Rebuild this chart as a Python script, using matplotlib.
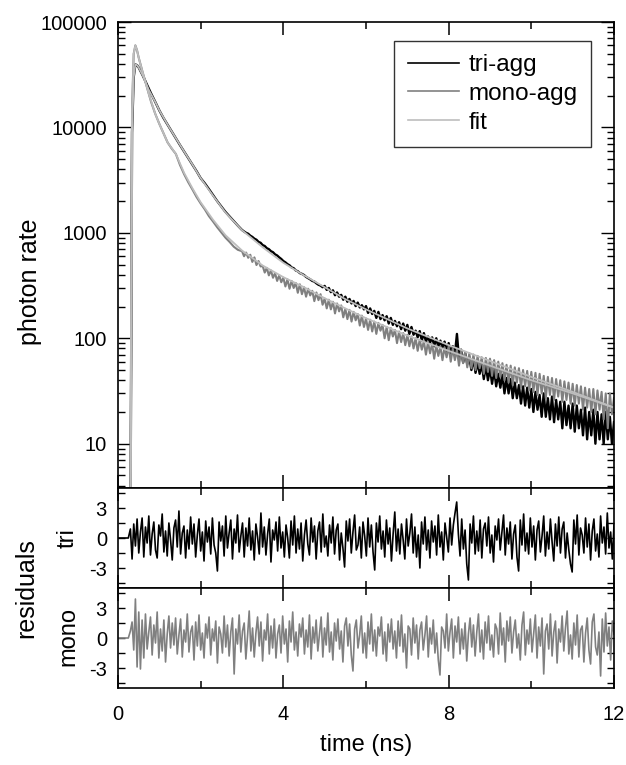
import numpy as np
import matplotlib
matplotlib.use("Agg")
import matplotlib.pyplot as plt
from matplotlib.ticker import FixedLocator, FuncFormatter, LogLocator, NullFormatter

plt.rcParams['font.family'] = ['Liberation Sans', 'DejaVu Sans']

# ---- decay data (photon rate), early part read at irregular times ----
early_t = [0.30, 0.34, 0.38, 0.42, 0.46, 0.5, 0.6, 0.7, 0.8, 0.9,
           1.0, 1.1, 1.2, 1.3, 1.4, 1.5, 1.6, 1.7, 1.8, 1.9,
           2.0, 2.1, 2.2, 2.3, 2.4, 2.5, 2.6, 2.7, 2.8, 2.9]
tri_early = [1, 9000, 30000, 39500, 39000, 37000, 31000, 25500, 21000, 17500,
             14500, 12300, 10600, 9100, 7900, 6800, 5900, 5100, 4450, 3850,
             3300, 2950, 2600, 2280, 2000, 1780, 1580, 1430, 1290, 1170]
mono_early = [1, 15000, 50000, 60000, 54000, 46000, 33000, 24000, 17500, 13500,
              10800, 8800, 7200, 6300, 5600, 4400, 3600, 3020, 2580, 2190,
              1900, 1670, 1440, 1280, 1130, 1010, 900, 820, 740, 690]

# tail, every 0.05 ns from 3.0 to 12.0 (one row per ns)
tri_tail = [1065, 1030, 1000, 980, 940, 915, 880, 860, 820, 805, 765, 750, 715, 700, 670, 655, 625, 610, 585, 565,
            540, 525, 505, 492, 470, 462, 440, 432, 415, 408, 398, 382, 372, 362, 350, 345, 332, 322, 316, 305,
            314, 288, 300, 274, 285, 256, 272, 248, 258, 232, 248, 222, 236, 214, 226, 202, 218, 196, 206, 188,
            202, 174, 192, 170, 182, 156, 178, 152, 166, 148, 162, 138, 156, 134, 146, 130, 142, 122, 138, 118,
            134, 110, 128, 108, 118, 102, 117, 95, 112, 93, 104, 91, 102, 84, 100, 83, 95, 81, 93, 76,
            90, 72, 84, 70, 110, 64, 78, 59, 72, 57, 66, 50, 64, 47, 59, 46, 57, 41, 55, 40,
            52, 37, 50, 35, 46, 34, 45, 30, 42, 30, 41, 27, 38, 27, 36, 24, 35, 23, 34, 22,
            33, 20, 31, 21, 29, 18, 30, 18, 27, 17, 28, 16, 26, 17, 25, 14, 25, 15, 23, 14,
            24, 13, 23, 14, 21, 12, 22, 11, 20, 12, 21, 10, 20, 11, 19, 10, 20, 11, 18, 10,
            16]
mono_tail = [670, 600, 650, 580, 620, 530, 585, 495, 540, 480, 485, 420, 465, 395, 440, 375, 415, 350, 395, 340,
             375, 310, 362, 295, 350, 300, 335, 270, 325, 262, 305, 248, 295, 255, 282, 225, 272, 230, 262, 208,
             238, 192, 232, 188, 222, 172, 214, 180, 205, 158, 190, 152, 186, 144, 178, 148, 170, 132, 164, 128,
             154, 120, 150, 116, 144, 110, 140, 118, 134, 100, 128, 96, 125, 104, 120, 90, 116, 92, 112, 86,
             108, 84, 104, 80, 100, 76, 97, 78, 94, 70, 92, 72, 89, 64, 86, 68, 84, 62, 82, 66,
             84, 60, 80, 62, 78, 55, 76, 58, 74, 53, 72, 52, 70, 50, 68, 52, 66, 46, 65, 48,
             64, 44, 62, 42, 60, 43, 58, 40, 56, 38, 55, 36, 53, 38, 52, 34, 50, 35, 49, 32,
             48, 31, 47, 29, 46, 30, 44, 27, 43, 29, 42, 26, 41, 28, 40, 25, 39, 26, 38, 24,
             37, 23, 36, 24, 35, 21, 34, 22, 33, 20, 33, 19, 32, 21, 31, 17, 30, 14, 30, 19,
             27]

# ---- fit curves ----
fit_t = [0.30, 0.34, 0.38, 0.42, 0.46, 0.5, 0.6, 0.75, 0.9, 1.0,
         1.2, 1.4, 1.6, 1.8, 2.0, 2.3, 2.6, 3.0, 3.5, 4.0,
         4.5, 5.0, 5.5, 6.0, 7.0, 8.0, 9.0, 10.0, 11.0, 12.0]
fit_tri = [1, 9000, 30000, 39500, 39000, 37000, 31000, 22500, 17500, 14500,
           10600, 7900, 5900, 4450, 3300, 2250, 1560, 1060, 730, 520,
           395, 305, 235, 188, 124, 86, 61, 43, 31, 22]
fit_mono = [1, 15000, 50000, 60000, 54000, 46000, 33000, 20500, 13500, 10800,
            7200, 5600, 3700, 2650, 1950, 1330, 950, 680, 490, 380,
            305, 240, 192, 155, 106, 76, 55, 40, 30, 22]

# ---- weighted residuals (flat lead-in, then 0.3 .. 12 ns) ----
res_lead_t = [0.0, 0.25]
res_tri = [0.9, -2.1, 1.4, -0.8, 1.9, -1.5, 0.6, 2.0, -1.9, 1.1,
           -0.5, 2.2, -1.7, 0.4, 1.6, -1.2, -2.0, 1.3, 0.2, 2.4,
           -1.4, 0.7, -1.8, 1.5, -0.2, -2.2, 1.0, 1.8, -0.9, 2.7,
           -1.6, 0.5, 1.2, -2.0, 0.8, -1.1, 2.1, -0.6, 1.4, -1.9,
           0.3, 1.9, -1.3, 0.6, -2.3, 1.7, -0.4, 1.1, -1.6, 2.0,
           -0.7, -1.5, -3.3, 1.6, -0.3, 1.2, -1.8, 2.2, -1.0, 0.5,
           1.8, -2.1, 0.9, -0.5, 2.3, -1.4, 0.2, 1.5, -1.9, 1.0,
           -0.8, 2.0, -1.2, 0.7, -2.2, 1.4, 0.1, -1.6, 2.5, -0.9,
           1.1, -1.7, 0.4, 1.9, -2.4, 0.8, -0.2, 1.6, -1.3, 2.1,
           -1.0, 0.6, -1.9, 1.3, 0.0, -2.0, 1.7, -0.7, 2.2, -1.5,
           0.9, -1.1, 1.5, -2.3, 0.3, 1.8, -0.6, -1.7, 2.0, -0.4,
           1.2, -2.1, 0.7, 1.6, -1.4, 2.4, -0.9, 0.2, -1.8, 1.3,
           -0.5, 2.1, -1.6, 0.8, 1.4, -2.2, 0.5, -1.0, -2.9, 1.7,
           -0.3, 1.9, -1.5, 0.6, 2.3, -1.2, -0.7, 1.1, -2.0, 1.6,
           0.2, -1.8, 2.0, -0.9, 1.3, -1.4, -3.2, 1.5, -0.4, 2.2,
           -1.1, 0.7, -1.9, 1.8, -0.6, 1.0, -2.3, 0.4, 2.6, -1.3,
           0.9, -1.6, 1.4, -0.2, -2.1, 1.9, -0.8, 0.5, 2.4, -1.5,
           1.1, -1.9, 0.3, -3.0, 1.6, -0.6, 2.1, -1.2, 0.8, -2.0,
           1.7, -0.4, 1.2, -1.7, 2.3, -0.9, 0.6, -2.2, 1.5, 0.1,
           -1.4, 2.0, -0.7, 1.3, 2.5, 3.6, 0.4, -1.8, 1.9, -1.1,
           0.8, -2.6, -4.2, 1.4, -0.5, 2.2, -1.6, 0.7, -1.3, 1.8,
           -2.0, 0.9, 1.5, -0.8, 2.1, -1.5, 0.3, -2.4, 1.2, -0.2,
           1.9, -1.2, 0.6, 2.3, -1.7, 1.0, -0.6, 1.6, -2.1, 0.4,
           1.3, -1.9, -3.3, 1.8, -0.7, 2.4, -1.3, 0.5, -1.6, 2.0,
           -0.9, 1.2, -2.2, 0.8, 1.7, -1.4, 0.2, 2.2, -1.8, 0.6,
           -1.1, 1.9, -0.4, -2.3, 1.4, -0.8, 2.1, -1.5, 0.9, 1.6,
           -2.0, 0.5, -1.2, -2.6, -3.4, 1.8, -0.6, 2.3, -1.7, 1.0,
           0.3, -1.5, 2.0, -0.9, 1.4, -2.2, 0.7, 1.9, -1.3, 0.4,
           -1.9, 2.2, -0.5, 1.1, -1.6, 2.5, -1.0, 0.6, -2.1, 1.3]
res_mono = [0.7, 1.6, -1.2, 3.9, -2.9, 2.6, -3.1, 1.8, -2.0, 2.4,
            -1.1, 0.6, 2.1, -1.7, 1.3, -0.5, 2.6, -2.0, 0.9, -1.3,
            1.8, -2.4, 0.4, 2.2, -1.0, 1.5, -0.7, 2.0, -1.6, 0.3,
            1.9, -1.9, 0.8, -0.4, 2.4, -1.4, 0.6, 1.2, -2.2, 1.6,
            -0.8, 2.3, -1.2, 0.5, -2.0, 1.4, 0.0, 2.1, -1.7, 0.9,
            -0.3, 1.7, -2.5, 1.1, 0.4, -1.5, 2.2, -0.9, 1.3, -1.8,
            0.6, 2.0, -3.6, 0.9, -0.6, 2.3, -1.4, 0.7, 1.5, -2.1,
            0.2, 2.7, -1.3, 1.0, -1.9, 0.5, 2.1, -0.8, 1.6, -2.3,
            0.8, -0.2, 2.4, -1.6, 1.2, -1.0, 1.9, -2.0, 0.4, 1.3,
            -1.5, 2.2, -0.6, 0.9, -2.4, 1.7, -0.4, 2.6, -1.2, 0.6,
            -1.8, 1.4, 0.1, 2.0, -1.6, 0.8, -0.9, 2.3, -2.1, 1.1,
            -0.5, 1.8, -1.3, 0.4, 2.1, -1.9, 1.0, -0.7, 2.5, -1.4,
            0.6, -2.2, 1.5, -0.3, 1.9, -1.1, 0.7, -2.4, 1.2, 2.0,
            -0.8, 1.4, -1.7, -3.3, 0.9, 1.8, -1.0, 0.3, 2.2, -1.5,
            0.5, -2.0, 1.6, -0.6, 2.4, -1.3, 0.8, -1.8, 1.1, 0.2,
            2.1, -1.6, 0.6, -2.3, 1.4, -0.4, 1.9, -1.1, 0.7, -2.0,
            1.7, -0.8, 2.3, -1.4, 0.4, -3.0, 1.2, 0.9, -1.7, 2.0,
            -0.5, 1.3, -2.1, 0.8, 1.6, -1.2, 0.3, 2.2, -1.9, 1.0,
            -0.6, 1.8, -1.5, 0.5, -2.2, -3.7, 1.1, 0.7, -1.0, 2.4,
            -1.3, 0.6, 1.9, -2.0, 1.2, -0.4, 2.1, -1.6, 0.9, -1.1,
            1.5, -2.3, 0.4, 2.0, -0.9, 1.3, -1.8, 0.6, 2.4, -1.4,
            0.8, -2.1, 1.6, -0.5, 2.2, -1.2, 0.3, -1.9, 1.4, 0.9,
            -1.6, 2.5, -0.7, 1.0, -2.4, 1.7, -0.3, 2.1, -1.5, 0.6,
            1.8, -1.0, 0.4, -2.2, 1.3, 2.6, -1.7, 0.8, -0.6, 1.9,
            -1.4, 0.5, 2.3, -2.0, 1.1, -0.8, 2.0, -3.6, 0.7, 1.4,
            -1.1, 2.4, -1.8, 0.6, 1.7, -2.5, 0.9, -0.4, 2.2, -1.3,
            1.0, 2.7, -1.6, 0.3, -2.1, 1.5, -0.7, 2.3, -1.9, 0.8,
            1.2, -2.4, 0.5, 2.0, -1.2, -2.6, 1.6, 2.4, -0.9, -1.7,
            0.6, -3.8, 1.9, -1.4, 2.5, -0.8, 1.1, -2.2, 1.7, 0.4]

tail_t = np.linspace(3.0, 12.0, len(tri_tail))
data_t = np.concatenate([early_t, tail_t])
tri_data = np.concatenate([tri_early, tri_tail])
mono_data = np.concatenate([mono_early, mono_tail])

res_t = np.concatenate([res_lead_t, np.linspace(0.3, 12.0, len(res_tri))])
res_tri_full = np.concatenate([[0.0, 0.0], res_tri])
res_mono_full = np.concatenate([[0.0, 0.0], res_mono])

BLACK = '#000000'
GREY = '#808080'
LIGHT = '#bdbdbd'
FS_TICK = 14.5

W, H = 626, 765
fig = plt.figure(figsize=(W / 100, H / 100), dpi=100)


def px_axes(top, bottom, left=118, right=614):
    return fig.add_axes([left / W, 1 - bottom / H, (right - left) / W, (bottom - top) / H])


ax = px_axes(22, 488)
ax_tri = px_axes(488, 588)
ax_mono = px_axes(588, 688)

ax.plot(data_t, tri_data, color=BLACK, lw=1.7, label='tri-agg')
ax.plot(data_t, mono_data, color=GREY, lw=1.5, label='mono-agg')
ax.plot(fit_t, fit_tri, color=LIGHT, lw=1.3, label='fit')
ax.plot(fit_t, fit_mono, color=LIGHT, lw=1.3)
ax.set_yscale('log')
ax.set_ylim(3.8, 1e5)

ax_tri.plot(res_t, res_tri_full, color=BLACK, lw=1.2)
ax_mono.plot(res_t, res_mono_full, color=GREY, lw=1.2)

for a in (ax, ax_tri, ax_mono):
    a.set_xlim(0, 12)
    a.xaxis.set_major_locator(FixedLocator([0, 4, 8, 12]))
    a.xaxis.set_minor_locator(FixedLocator([2, 6, 10]))
    a.tick_params(axis='x', which='both', direction='in', top=True, bottom=True,
                  labelsize=FS_TICK, pad=12)
    a.tick_params(axis='x', which='major', length=9.5, width=1.1)
    a.tick_params(axis='x', which='minor', length=5, width=1.1)
    a.tick_params(axis='y', which='both', direction='in', left=True, right=True,
                  labelsize=FS_TICK, pad=8, width=1.0)
    for s in a.spines.values():
        s.set_linewidth(1.2)

ax.tick_params(axis='x', labelbottom=False)
ax_tri.tick_params(axis='x', labelbottom=False)

ax.yaxis.set_major_locator(LogLocator(base=10, numticks=10))
ax.yaxis.set_minor_locator(LogLocator(base=10, subs=np.arange(2, 10), numticks=10))
ax.yaxis.set_major_formatter(FuncFormatter(lambda v, p: '%d' % round(v)))
ax.yaxis.set_minor_formatter(NullFormatter())
ax.tick_params(axis='y', which='major', length=9.5)
ax.tick_params(axis='y', which='minor', length=5)

for a in (ax_tri, ax_mono):
    a.set_ylim(-5, 5)
    a.set_yticks([-4.5, -3, -1.5, 0, 1.5, 3, 4.5])
    a.set_yticklabels(['', '-3', '', '0', '', '3', ''])
    a.tick_params(axis='y', length=5)

leg = ax.legend(loc='upper right', bbox_to_anchor=((591 - 118) / 496, 1 - 19 / 466),
                borderaxespad=0, fontsize=17.5, frameon=True, fancybox=False,
                handlelength=2.1, handletextpad=0.4, borderpad=0.55, labelspacing=0.27)
leg.get_frame().set_edgecolor('black')
leg.get_frame().set_linewidth(1.0)
for ln in leg.get_lines():
    ln.set_linewidth(1.2)

fig.text(30 / W, 1 - 282 / H, 'photon rate', rotation=90, ha='center', va='center', fontsize=18)
fig.text(26 / W, 1 - 588 / H, 'residuals', rotation=90, ha='center', va='center', fontsize=18)
fig.text(68 / W, 1 - 538 / H, 'tri', rotation=90, ha='center', va='center', fontsize=17)
fig.text(68 / W, 1 - 637 / H, 'mono', rotation=90, ha='center', va='center', fontsize=17)
fig.text(366 / W, 1 - 745 / H, 'time (ns)', ha='center', va='center', fontsize=17)

fig.savefig('out.png', dpi=100)
